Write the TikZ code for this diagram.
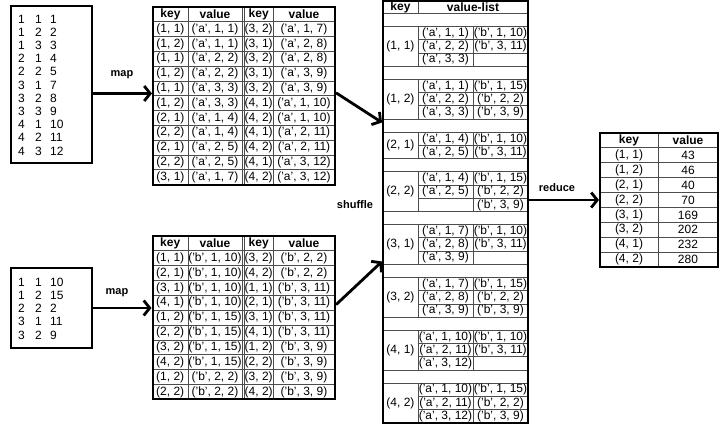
\documentclass[tikz,border=0pt]{standalone}
\usepackage{fontspec}
\setmainfont{Liberation Sans}
\usetikzlibrary{arrows.meta}
\newcommand{\kv}[2]{(#1, #2)}
\newcommand{\av}[2]{('a', #1, #2)}
\newcommand{\bv}[2]{('b', #1, #2)}
\tikzset{
	cell/.style={inner sep=0pt,font=\fontsize{12}{12}\selectfont},
	headcell/.style={inner sep=0pt,font=\fontsize{12}{12}\selectfont\bfseries},
	num/.style={inner sep=0pt,anchor=west,font=\fontsize{12}{12}\selectfont},
	lbl/.style={inner sep=0pt,font=\fontsize{11}{11}\selectfont\bfseries},
	tabframe/.style={draw,line width=2pt,inner sep=0pt},
	gridline/.style={draw=black!70,line width=0.8pt},
	bigarrow/.style={->,line width=2.8pt}
}
\begin{document}
\begin{tikzpicture}[x=1pt,y=-1pt,>={Straight Barb[length=6pt,width=15pt]}]
	\useasboundingbox (0,0) rectangle (721,425);
	% input a
	\node[tabframe,minimum width=81pt,minimum height=157pt] (inA) at (51.5,84.5) {};
	\foreach \a/\b/\c [count=\i] in {1/1/1,1/2/2,1/3/3,2/1/4,2/2/5,3/1/7,3/2/8,3/3/9,4/1/10,4/2/11,4/3/12} {
		\node[num] (inA\i-1) at (18,{5.8+13.2*\i}) {\a};
		\node[num] (inA\i-2) at (35,{5.8+13.2*\i}) {\b};
		\node[num] (inA\i-3) at (50,{5.8+13.2*\i}) {\c};
	}
	% input b
	\node[tabframe,minimum width=81pt,minimum height=80pt] (inB) at (51.5,308) {};
	\foreach \a/\b/\c [count=\i] in {1/1/10,1/2/15,2/2/2,3/1/11,3/2/9} {
		\node[num] (inB\i-1) at (18,{268.75+13.25*\i}) {\a};
		\node[num] (inB\i-2) at (35,{268.75+13.25*\i}) {\b};
		\node[num] (inB\i-3) at (50,{268.75+13.25*\i}) {\c};
	}
	% map output a
	\foreach \i in {1,...,11} \draw[gridline] (153,{7+14.8*\i}) -- (335,{7+14.8*\i});
	\foreach \x in {188,242,244.5,273} \draw[gridline] (\x,7) -- (\x,184.6);
	\node[tabframe,minimum width=182pt,minimum height=177.6pt] (mapA) at (244,95.8) {};
	\foreach \x/\t [count=\c] in {170.5/key,215/value,258.75/key,304/value}
		\node[headcell] (mapAh\c) at (\x,14.4) {\t};
	\foreach \ka/\va/\kb/\vb [count=\i] in {\kv11/\av11/\kv32/\av17, \kv12/\av11/\kv31/\av28,
		\kv11/\av22/\kv32/\av28, \kv12/\av22/\kv31/\av39, \kv11/\av33/\kv32/\av39,
		\kv12/\av33/\kv41/\av1{10}, \kv21/\av14/\kv42/\av1{10}, \kv22/\av14/\kv41/\av2{11},
		\kv21/\av25/\kv42/\av2{11}, \kv22/\av25/\kv41/\av3{12}, \kv31/\av17/\kv42/\av3{12}} {
		\node[cell] (mapA\i-1) at (170.5,{14.4+14.8*\i}) {\ka};
		\node[cell] (mapA\i-2) at (215,{14.4+14.8*\i}) {\va};
		\node[cell] (mapA\i-3) at (258.75,{14.4+14.8*\i}) {\kb};
		\node[cell] (mapA\i-4) at (304,{14.4+14.8*\i}) {\vb};
	}
	% map output b
	\foreach \i in {1,...,10} \draw[gridline] (152.5,{236+14.85*\i}) -- (335,{236+14.85*\i});
	\foreach \x in {188,242,244.5,273} \draw[gridline] (\x,236) -- (\x,399.35);
	\node[tabframe,minimum width=182.5pt,minimum height=163.35pt] (mapB) at (243.75,317.7) {};
	\foreach \x/\t [count=\c] in {170.25/key,215/value,258.75/key,304/value}
		\node[headcell] (mapBh\c) at (\x,243.4) {\t};
	\foreach \ka/\va/\kb/\vb [count=\i] in {\kv11/\bv1{10}/\kv32/\bv22, \kv21/\bv1{10}/\kv42/\bv22,
		\kv31/\bv1{10}/\kv11/\bv3{11}, \kv41/\bv1{10}/\kv21/\bv3{11}, \kv12/\bv1{15}/\kv31/\bv3{11},
		\kv22/\bv1{15}/\kv41/\bv3{11}, \kv32/\bv1{15}/\kv12/\bv39, \kv42/\bv1{15}/\kv22/\bv39,
		\kv12/\bv22/\kv32/\bv39, \kv22/\bv22/\kv42/\bv39} {
		\node[cell] (mapB\i-1) at (170.25,{243.425+14.85*\i}) {\ka};
		\node[cell] (mapB\i-2) at (215,{243.425+14.85*\i}) {\va};
		\node[cell] (mapB\i-3) at (258.75,{243.425+14.85*\i}) {\kb};
		\node[cell] (mapB\i-4) at (304,{243.425+14.85*\i}) {\vb};
	}
	% shuffle: key and value-list
	\draw[gridline] (383,13.5) -- (528,13.5);
	\draw[gridline] (418,1.5) -- (418,13.5);
	\foreach \t/\n in {26.7/3,79.5/3,132.3/2,171.9/3,224.7/3,277.5/3,330.3/3,383.1/3} {
		\draw[gridline] (383,\t) -- (528,\t);
		\draw[gridline] (383,{\t+13.2*\n}) -- (528,{\t+13.2*\n});
		\draw[gridline] (418,\t) -- (418,{\t+13.2*\n});
		\draw[gridline] (473,\t) -- (473,{\t+13.2*\n});
		\foreach \r in {1,...,\n} \draw[gridline] (418,{\t+13.2*\r}) -- (528,{\t+13.2*\r});
	}
	\node[tabframe,minimum width=145pt,minimum height=421.2pt] (shuf) at (455.5,212.1) {};
	\node[headcell] (shufh1) at (400.5,7.5) {key};
	\node[headcell] (shufh2) at (473,7.5) {value-list};
	\foreach \k/\y [count=\g] in {\kv11/46.5,\kv12/99.3,\kv21/145.5,\kv22/191.7,
		\kv31/244.5,\kv32/297.3,\kv41/350.1,\kv42/402.9}
		\node[cell] (shufk\g) at (400.5,\y) {\k};
	\foreach \y/\va/\vb [count=\i] in {33.3/\av11/\bv1{10}, 46.5/\av22/\bv3{11}, 59.7/\av33/{},
		86.1/\av11/\bv1{15}, 99.3/\av22/\bv22, 112.5/\av33/\bv39,
		138.9/\av14/\bv1{10}, 152.1/\av25/\bv3{11},
		178.5/\av14/\bv1{15}, 191.7/\av25/\bv22, 204.9/{}/\bv39,
		231.3/\av17/\bv1{10}, 244.5/\av28/\bv3{11}, 257.7/\av39/{},
		284.1/\av17/\bv1{15}, 297.3/\av28/\bv22, 310.5/\av39/\bv39,
		336.9/\av1{10}/\bv1{10}, 350.1/\av2{11}/\bv3{11}, 363.3/\av3{12}/{},
		389.7/\av1{10}/\bv1{15}, 402.9/\av2{11}/\bv22, 416.1/\av3{12}/\bv39} {
		\node[cell] (shufv\i-a) at (445.5,\y) {\va};
		\node[cell] (shufv\i-b) at (500.5,\y) {\vb};
	}
	% reduce output
	\foreach \i in {1,...,8} \draw[gridline] (600,{133+14.9*\i}) -- (718,{133+14.9*\i});
	\draw[gridline] (658,133) -- (658,267.1);
	\node[tabframe,minimum width=118pt,minimum height=134.1pt] (red) at (659,200.05) {};
	\node[headcell] (redh1) at (629,140.45) {key};
	\node[headcell] (redh2) at (688,140.45) {value};
	\foreach \k/\v [count=\i] in {\kv11/43,\kv12/46,\kv21/40,\kv22/70,\kv31/169,\kv32/202,\kv41/232,\kv42/280} {
		\node[cell] (red\i-1) at (629,{140.45+14.9*\i}) {\k};
		\node[cell] (red\i-2) at (688,{140.45+14.9*\i}) {\v};
	}
	% labels and arrows
	\node[lbl] (mapAlbl) at (122,75) {map};
	\node[lbl] (mapBlbl) at (117,293) {map};
	\node[lbl] (shuflbl) at (355,205) {shuffle};
	\node[lbl] (redlbl) at (557,188) {reduce};
	\draw[bigarrow] ([yshift=-9pt]inA.east) -- ([yshift=-9pt]inA.east -| mapA.west);
	\draw[bigarrow] (inB.east) -- (inB.east -| mapB.west);
	\draw[bigarrow] ([yshift=3pt]mapA.east) -- ([yshift=-122pt]shuf.north west);
	\draw[bigarrow] ([yshift=13pt]mapB.east) -- ([yshift=-261pt]shuf.north west);
	\draw[bigarrow] (shuf.east |- red.west) -- (red.west);
\end{tikzpicture}
\end{document}
